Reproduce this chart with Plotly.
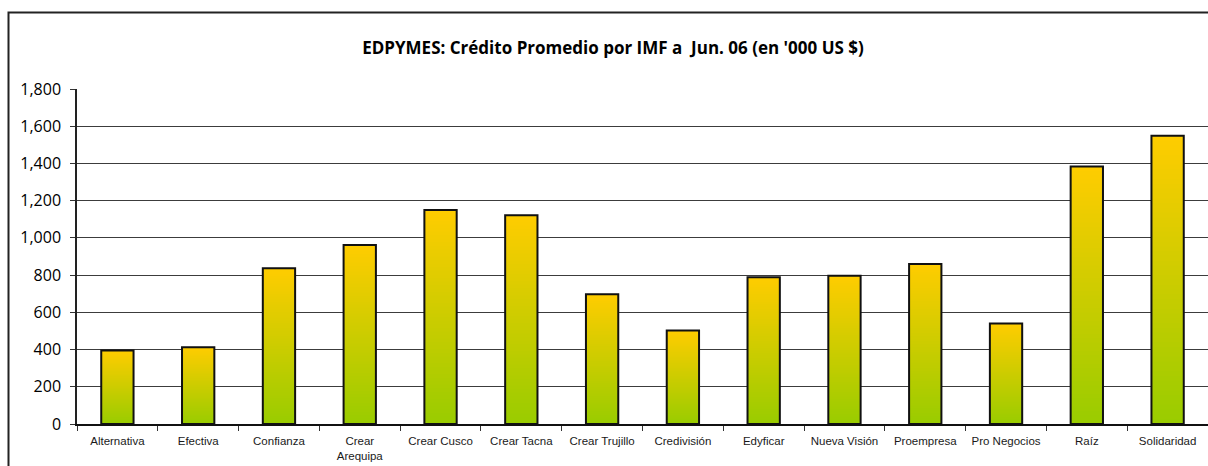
import plotly.graph_objects as go

# ---- data ----
categories = ["Alternativa", "Efectiva", "Confianza", "Crear<br>Arequipa", "Crear Cusco",
              "Crear Tacna", "Crear Trujillo", "Credivisión", "Edyficar", "Nueva Visión",
              "Proempresa", "Pro Negocios", "Raíz", "Solidaridad"]
values = [395, 412, 837, 962, 1150, 1122, 697, 502, 789, 796, 860, 540, 1383, 1549]
y_ticks = [0, 200, 400, 600, 800, 1000, 1200, 1400, 1600, 1800]
title_text = "<b>EDPYMES: Crédito Promedio por IMF a  Jun. 06 (en '000 US $)</b>"

# ---- style ----
TOP = (255, 204, 0)      # yellow at top of each bar
BOTTOM = (153, 204, 0)   # green at bottom
N = 60                   # gradient bands

def mix(f):
    r = round(BOTTOM[0] + (TOP[0] - BOTTOM[0]) * f)
    g = round(BOTTOM[1] + (TOP[1] - BOTTOM[1]) * f)
    b = round(BOTTOM[2] + (TOP[2] - BOTTOM[2]) * f)
    return f"rgb({r},{g},{b})"

fig = go.Figure()

# gradient: overlaid bars of decreasing height, tallest first
for k in range(N):
    frac = (N - k) / N
    fig.add_trace(go.Bar(
        x=categories,
        y=[v * frac for v in values],
        marker=dict(color=mix(frac - 0.5 / N), line=dict(width=0)),
        hoverinfo="skip",
        showlegend=False,
    ))

# outline
fig.add_trace(go.Bar(
    x=categories,
    y=values,
    marker=dict(color="rgba(0,0,0,0)", line=dict(color="#111111", width=2)),
    showlegend=False,
    hovertemplate="%{x}: %{y:,}<extra></extra>",
))

fig.update_layout(
    width=1208, height=466,
    margin=dict(l=77, r=0, t=89, b=42),
    paper_bgcolor="white", plot_bgcolor="white",
    barmode="overlay", bargap=0.6,
    title=dict(text=title_text, x=613 / 1208, xref="container", xanchor="center",
               y=1 - 48 / 466, yref="container", yanchor="middle",
               font=dict(family="Open Sans", size=17, color="black")),
    xaxis=dict(
        tickfont=dict(family="Liberation Sans, Arial", size=11.5, color="#1a1a1a"),
        showline=True, linecolor="#111", linewidth=1.5,
        ticks="outside", tickson="boundaries", ticklen=5, tickcolor="#333",
        showgrid=False, ticklabelstandoff=5,
    ),
    yaxis=dict(
        range=[0, 1800], tickvals=y_ticks, tickformat=",",
        tickfont=dict(family="Open Sans", size=16, color="black"),
        showline=True, linecolor="#222", linewidth=1.5,
        ticks="outside", ticklen=5, tickcolor="#333",
        showgrid=True, gridcolor="#3c3c3c", gridwidth=1,
        zeroline=False, ticklabelstandoff=6,
    ),
    shapes=[dict(type="rect", xref="paper", yref="paper",
                 x0=(8.5 - 77) / 1131, x1=1.05, y0=-0.3, y1=(424 - 12.5) / 335,
                 line=dict(color="#222", width=2), fillcolor="rgba(0,0,0,0)", layer="below")],
)

fig.write_html("out.html",
               config={"displayModeBar": False},
               post_script="document.body.style.margin='0';document.body.style.overflow='hidden';")
